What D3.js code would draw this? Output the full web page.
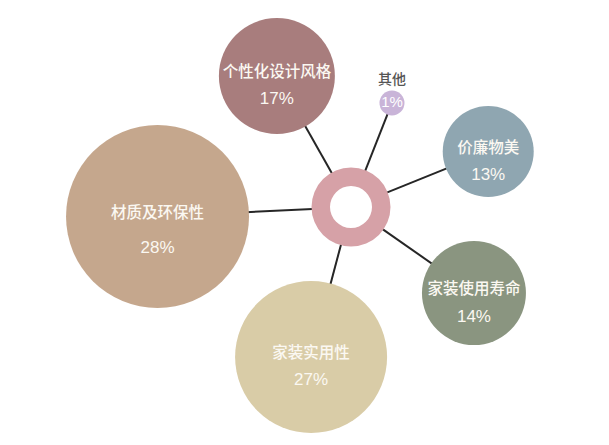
<!DOCTYPE html>
<html>
<head>
<meta charset="utf-8">
<script src="https://cdn.jsdelivr.net/npm/d3@7"></script>
<style>
  html, body { margin: 0; padding: 0; background: #ffffff; }
  svg { display: block; }
</style>
</head>
<body>
<svg id="chart" width="609" height="445"></svg>
<script>
// ---- data ----
const categories = ["个性化设计风格", "其他", "价廉物美", "家装使用寿命", "家装实用性", "材质及环保性"];
const shares = [17, 1, 13, 14, 27, 28];
const shareLabels = shares.map(v => v + "%");

// ---- layout (polar placement around the hub) ----
const hub = { x: 351, y: 207, outer: 39.5, inner: 21 };
const anglesDeg = [-29.5, 21.5, 68, 125, 194.9, 267.2];
const distances = [150.5, 111.8, 148, 150.1, 155.2, 193.7];
const radii = [58, 12.5, 45.5, 52, 76, 91.5];
const colors = ["#a87d7d", "#c9b4d8", "#8fa6b1", "#8a9580", "#d9cca7", "#c5a78d"];
const hubColor = "#d6a1a7";

const svg = d3.select("#chart");
const cjk = "'Noto Sans CJK SC', 'Noto Sans', sans-serif";
const latin = "'Liberation Sans', Arial, sans-serif";

const nodes = categories.map((c, i) => {
  const a = anglesDeg[i] * Math.PI / 180;
  const [px, py] = d3.pointRadial(a, distances[i]);
  const [sx, sy] = d3.pointRadial(a, hub.outer - 1);
  return { name: c, value: shares[i], label: shareLabels[i],
           x: hub.x + px, y: hub.y + py, sx: hub.x + sx, sy: hub.y + sy,
           r: radii[i], color: colors[i] };
});

// connectors (from hub edge to bubble)
svg.append("g").selectAll("line").data(nodes).join("line")
  .attr("x1", d => d.sx).attr("y1", d => d.sy)
  .attr("x2", d => d.x).attr("y2", d => d.y)
  .attr("stroke", "#262626").attr("stroke-width", 2);

// hub ring
const arc = d3.arc().innerRadius(hub.inner).outerRadius(hub.outer).startAngle(0).endAngle(2 * Math.PI);
svg.append("path").attr("d", arc()).attr("transform", `translate(${hub.x},${hub.y})`).attr("fill", hubColor);

// bubbles
svg.append("g").selectAll("circle").data(nodes).join("circle")
  .attr("cx", d => d.x).attr("cy", d => d.y)
  .attr("r", d => d.r).attr("fill", d => d.color);

const big = nodes.filter(d => d.r > 20);
const small = nodes.filter(d => d.r <= 20);

svg.append("g").selectAll("text").data(big).join("text")
  .attr("x", d => d.x).attr("y", d => d.y - 3)
  .attr("text-anchor", "middle").attr("dominant-baseline", "middle")
  .attr("font-family", cjk).attr("font-size", 15.5).attr("font-weight", 500).attr("fill", "#fbf8f2")
  .text(d => d.name);

svg.append("g").selectAll("text").data(big).join("text")
  .attr("x", d => d.x).attr("y", d => d.y + (d.r > 85 ? 32 : 24))
  .attr("text-anchor", "middle").attr("dominant-baseline", "middle")
  .attr("font-family", latin).attr("font-size", 17).attr("fill", "#fbf8f2")
  .text(d => d.label);

// small bubble: name above, value inside
svg.append("g").selectAll("text").data(small).join("text")
  .attr("x", d => d.x).attr("y", d => d.y - d.r - 10)
  .attr("text-anchor", "middle").attr("dominant-baseline", "middle")
  .attr("font-family", cjk).attr("font-size", 14).attr("font-weight", 500).attr("fill", "#555555")
  .text(d => d.name);

svg.append("g").selectAll("text").data(small).join("text")
  .attr("x", d => d.x).attr("y", d => d.y)
  .attr("text-anchor", "middle").attr("dominant-baseline", "middle")
  .attr("font-family", latin).attr("font-size", 15).attr("fill", "#ffffff")
  .text(d => d.label);
</script>
</body>
</html>
